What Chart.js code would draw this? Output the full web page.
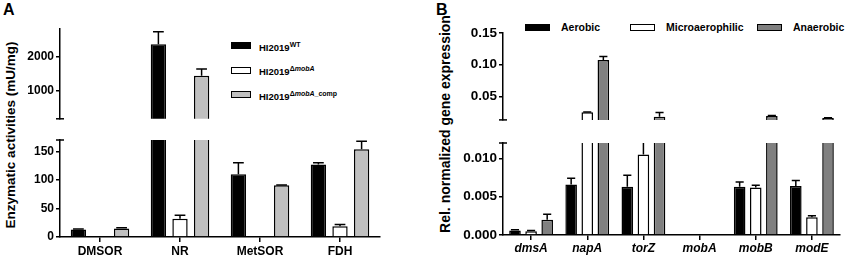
<!DOCTYPE html>
<html lang="en">
<head>
<meta charset="UTF-8" />
<title>Molybdoenzyme activities and gene expression</title>
<script src="https://cdn.jsdelivr.net/npm/chart.js"></script>
<style>
  body { margin: 0; width: 850px; height: 261px; position: relative; overflow: hidden; background: #fff;
         font-family: "Liberation Sans", Arial, sans-serif; font-weight: bold; color: #000; }
  canvas, .txt, .box { position: absolute; }
  .txt { white-space: nowrap; line-height: 1; }
  .vtitle { transform: translate(-50%, -50%) rotate(-90deg); }
  .box { box-sizing: border-box; border: 1.5px solid #000; }
  sup { font-size: 7px; vertical-align: 4px; }
</style>
</head>
<body>
<div class="txt" style="left:3px;top:2px;font-size:16px">A</div>
<div class="txt" style="left:436px;top:2px;font-size:16px">B</div>
<div class="txt vtitle" style="left:11px;top:135px;font-size:13.5px">Enzymatic activities (mU/mg)</div>
<div class="txt vtitle" style="left:445px;top:124px;font-size:14px">Rel. normalized gene expression</div>
<div id="legendA"></div>
<div id="legendB"></div>
<canvas id="aTop" width="390" height="128" style="left:0;top:0"></canvas>
<canvas id="aLow" width="390" height="133" style="left:0;top:128px"></canvas>
<canvas id="bTop" width="430" height="130" style="left:420px;top:0"></canvas>
<canvas id="bLow" width="430" height="131" style="left:420px;top:130px"></canvas>
<script>
// panel A: enzyme activities (mU/mg)
const enzymes = ["DMSOR", "NR", "MetSOR", "FDH"];
const strainBase = "HI2019";
const strainSup = ["WT", "\u0394mobA", "\u0394mobA_comp"];
const wtActivity = [13, 2360, 110, 127];
const wtError = [1, 360, 20, 3];
const mobAActivity = [0, 32, 0, 19];
const mobAError = [0, 6, 0, 3];
const compActivity = [15, 1450, 90.5, 154];
const compError = [1, 190, 0.8, 14];
const activityTicksLow = [0, 50, 100, 150];
const activityTicksHigh = [1000, 2000];

// panel B: relative normalized expression
const genes = ["dmsA", "napA", "torZ", "mobA", "mobB", "modE"];
const conditions = ["Aerobic", "Microaerophilic", "Anaerobic"];
const aerobicExpr = [0.0006, 0.0066, 0.0063, 0, 0.0063, 0.0064];
const aerobicError = [0.0001, 0.0008, 0.0015, 0, 0.0006, 0.0007];
const microExpr = [0.0005, 0.025, 0.0105, 0, 0.0062, 0.0023];
const microError = [0.0001, 0.0006, 0.0017, 0, 0.0003, 0.0002];
const anaerobicExpr = [0.002, 0.1075, 0.018, 0, 0.0192, 0.016];
const anaerobicError = [0.0007, 0.0055, 0.0065, 0, 0.0006, 0.0005];
const exprTicksLow = [0, 0.005, 0.010];
const exprTicksHigh = [0.05, 0.10, 0.15];

const colorsA = ["#000000", "#ffffff", "#c0c0c0"];
const colorsB = ["#000000", "#ffffff", "#808080"];

Chart.defaults.font.family = '"Liberation Sans", Arial, sans-serif';
Chart.defaults.font.weight = "bold";
Chart.defaults.color = "#000";

// upward-only error bars, clipped to the plot area
const errorBars = {
  id: "errorBars",
  afterDatasetsDraw(chart) {
    const { ctx, chartArea: a, scales: { y } } = chart;
    ctx.save();
    ctx.beginPath();
    ctx.rect(a.left, a.top, a.right - a.left, a.bottom - a.top);
    ctx.clip();
    ctx.strokeStyle = "#000";
    ctx.lineWidth = 1.5;
    chart.data.datasets.forEach((ds, i) => {
      chart.getDatasetMeta(i).data.forEach((bar, j) => {
        const e = ds.errors[j];
        if (!e) return;
        const y0 = y.getPixelForValue(ds.data[j]);
        const y1 = y.getPixelForValue(ds.data[j] + e);
        const half = bar.width * 0.35;
        ctx.beginPath();
        ctx.moveTo(bar.x, y0);
        ctx.lineTo(bar.x, y1);
        // cap only when its end really lies inside this segment
        if (y1 > a.top + 1 && y1 < a.bottom - 1) {
          ctx.moveTo(bar.x - half, y1);
          ctx.lineTo(bar.x + half, y1);
        }
        ctx.stroke();
      });
    });
    ctx.restore();
  },
};

// little cross caps where the y axis is broken
const breakCaps = {
  id: "breakCaps",
  afterDraw(chart, args, opts) {
    if (!opts.at) return;
    const { ctx, chartArea: a } = chart;
    const yp = opts.at === "top" ? a.top : a.bottom;
    ctx.save();
    ctx.strokeStyle = "#000";
    ctx.lineWidth = 1.5;
    ctx.beginPath();
    ctx.moveTo(a.left - 4, yp);
    ctx.lineTo(a.left + 4, yp);
    ctx.stroke();
    ctx.restore();
  },
};

function makeDatasets(names, values, errors, colors, bp, cp) {
  return names.map((n, i) => ({
    label: n,
    data: values[i],
    errors: errors[i],
    backgroundColor: colors[i],
    borderColor: "#000",
    borderWidth: 1.5,
    barPercentage: bp,
    categoryPercentage: cp,
    clip: 0,
  }));
}

function drawPanel(id, cfg) {
  new Chart(document.getElementById(id), {
    type: "bar",
    data: { labels: cfg.labels, datasets: cfg.datasets },
    plugins: [errorBars, breakCaps],
    options: {
      responsive: false,
      animation: false,
      layout: { padding: cfg.padding },
      plugins: { legend: { display: false }, tooltip: { enabled: false }, breakCaps: { at: cfg.cap } },
      scales: {
        x: {
          display: cfg.showX,
          afterFit: (s) => { s.height = cfg.xHeight || 0; },
          border: { color: "#000", width: 1.5 },
          grid: { offset: false, drawOnChartArea: false, color: "#000", lineWidth: 1.5, tickLength: 5 },
          ticks: { font: { size: 12, style: cfg.xStyle || "normal" }, padding: cfg.xPad || 2 },
        },
        y: {
          min: cfg.min,
          max: cfg.max,
          afterFit: (s) => { s.width = cfg.yWidth; },
          afterBuildTicks: (s) => { s.ticks = cfg.ticks.map((v) => ({ value: v })); },
          border: { color: "#000", width: 1.5 },
          grid: { drawOnChartArea: false, color: "#000", lineWidth: 1.5, tickLength: 4 },
          ticks: { font: { size: cfg.yFont }, padding: 2, callback: (v) => v.toFixed(cfg.dec) },
        },
      },
    },
  });
}

const dsA = () => makeDatasets(strainSup, [wtActivity, mobAActivity, compActivity],
  [wtError, mobAError, compError], colorsA, 0.71, 0.81);
const dsB = () => makeDatasets(conditions, [aerobicExpr, microExpr, anaerobicExpr],
  [aerobicError, microError, anaerobicError], colorsB, 0.72, 0.86);

drawPanel("aTop", { labels: enzymes, datasets: dsA(), min: 200, max: 2800, ticks: activityTicksHigh, dec: 0,
  yWidth: 60, yFont: 12, showX: false, cap: "bottom", padding: { top: 29, right: 10, bottom: 7, left: 0 } });
drawPanel("aLow", { labels: enzymes, datasets: dsA(), min: 0, max: 170, ticks: activityTicksLow, dec: 0,
  yWidth: 60, yFont: 12, showX: true, xHeight: 24, cap: "top", padding: { top: 12, right: 10, bottom: 0, left: 0 } });
drawPanel("bTop", { labels: genes, datasets: dsB(), min: 0.013, max: 0.15, ticks: exprTicksHigh, dec: 2,
  yWidth: 83, yFont: 13.5, showX: false, cap: "bottom", padding: { top: 33, right: 10, bottom: 5, left: 0 } });
drawPanel("bLow", { labels: genes, datasets: dsB(), min: 0, max: 0.012, ticks: exprTicksLow, dec: 3,
  yWidth: 83, yFont: 13.5, showX: true, xHeight: 26, xStyle: "italic", xPad: 1, cap: "top",
  padding: { top: 13, right: 10, bottom: 0, left: 0 } });

// legends as html text
const legendA = document.getElementById("legendA");
strainSup.forEach((s, i) => {
  const y = 45.5 + i * 24.5;
  legendA.insertAdjacentHTML("beforeend",
    `<div class="box" style="left:231px;top:${y - 3.5}px;width:20px;height:7px;background:${colorsA[i]}"></div>` +
    `<div class="txt" style="left:259px;top:${y - 5}px;font-size:9.5px">${strainBase}<sup>${s.replace("mobA", "<i>mobA</i>")}</sup></div>`);
});
const legendB = document.getElementById("legendB");
const legendBx = [525, 630, 757];
conditions.forEach((c, i) => {
  const x = legendBx[i];
  legendB.insertAdjacentHTML("beforeend",
    `<div class="box" style="left:${x}px;top:23.5px;width:25px;height:7px;background:${colorsB[i]}"></div>` +
    `<div class="txt" style="left:${x + 36}px;top:21.5px;font-size:10.5px">${c}</div>`);
});
</script>
</body>
</html>
